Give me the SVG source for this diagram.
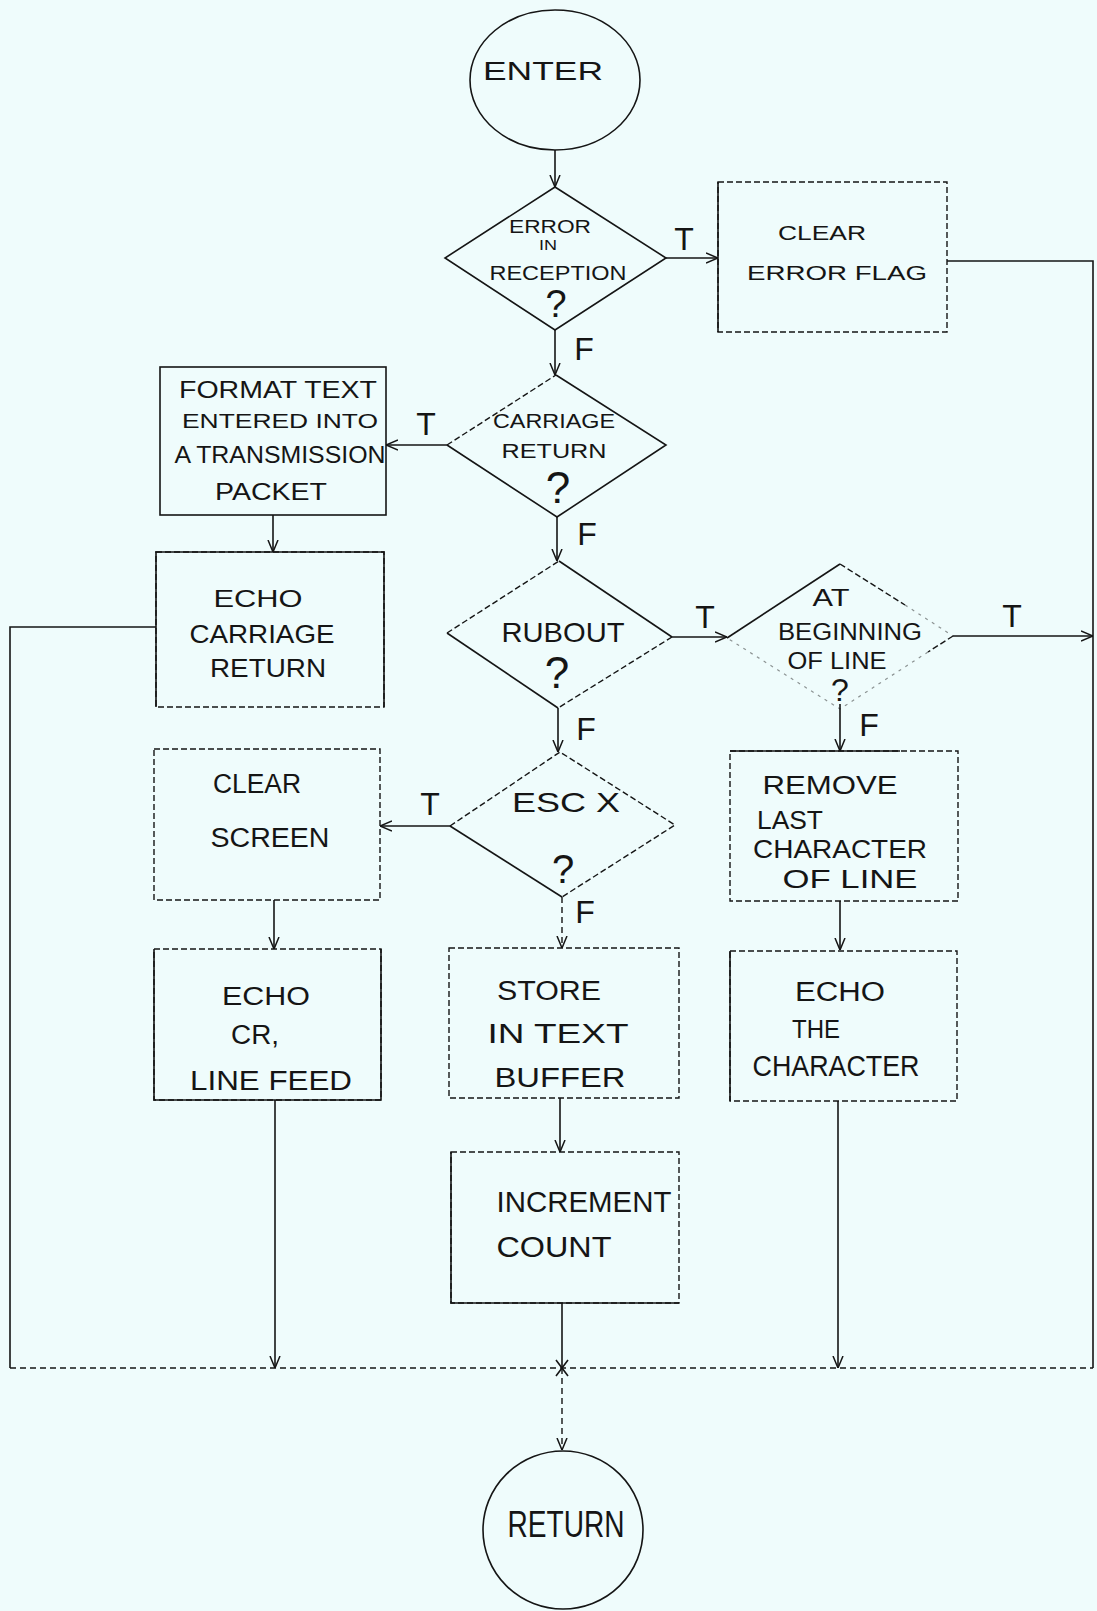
<svg xmlns="http://www.w3.org/2000/svg" width="1097" height="1611" viewBox="0 0 1097 1611">
<defs>
<style>
.bg{fill:#effcfc}
.s{fill:none;stroke:#151515;stroke-width:1.6}
.d{fill:none;stroke:#151515;stroke-width:1.4;stroke-dasharray:6 3}
.f{fill:none;stroke:#151515;stroke-width:1.2;stroke-dasharray:3 5;opacity:.45}
.c{fill:none;stroke:#151515;stroke-width:1.6}
.cd{fill:none;stroke:#151515;stroke-width:1.4;stroke-dasharray:6 4}
text{font-family:"Liberation Sans",Arial,sans-serif;fill:#151515;text-anchor:middle}
.lb{font-size:32px}
</style>
<marker id="ah" viewBox="0 0 12 12" refX="12" refY="6" markerWidth="12" markerHeight="12" markerUnits="userSpaceOnUse" orient="auto">
<path d="M0,1 L12,6 L0,11" fill="none" stroke="#151515" stroke-width="1.5"/>
</marker>
</defs>
<rect class="bg" x="0" y="0" width="1097" height="1611"/>

<g id="connectors">
<path class="c" d="M555,150 V187" marker-end="url(#ah)"/>
<path class="c" d="M666,258 H718" marker-end="url(#ah)"/>
<path class="c" d="M947,261 H1093 V1368"/>
<path class="c" d="M555,330 V375" marker-end="url(#ah)"/>
<path class="c" d="M447,445 H386" marker-end="url(#ah)"/>
<path class="c" d="M273,515 V552" marker-end="url(#ah)"/>
<path class="c" d="M156,627 H10 V1368"/>
<path class="cd" d="M10,1368 H1093"/>
<path class="c" d="M557,517 V561" marker-end="url(#ah)"/>
<path class="c" d="M672,637 H727" marker-end="url(#ah)"/>
<path class="c" d="M953,636 H1093" marker-end="url(#ah)"/>
<path class="c" d="M840,704 V751" marker-end="url(#ah)"/>
<path class="c" d="M840,901 V950" marker-end="url(#ah)"/>
<path class="c" d="M838,1101 V1368" marker-end="url(#ah)"/>
<path class="c" d="M558,708 V752" marker-end="url(#ah)"/>
<path class="c" d="M450,826 H380" marker-end="url(#ah)"/>
<path class="c" d="M274,900 V949" marker-end="url(#ah)"/>
<path class="c" d="M275,1100 V1368" marker-end="url(#ah)"/>
<path class="cd" d="M562,897 V948" marker-end="url(#ah)"/>
<path class="c" d="M560,1098 V1152" marker-end="url(#ah)"/>
<path class="c" d="M562,1303 V1368"/>
<path class="cd" d="M562,1368 V1450" marker-end="url(#ah)"/>
<path class="c" d="M556,1360 L568,1376 M568,1360 L556,1376"/>
<text class="lb" x="684" y="250">T</text>
<text class="lb" x="584" y="360">F</text>
<text class="lb" x="426" y="435">T</text>
<text class="lb" x="587" y="545">F</text>
<text class="lb" x="705" y="628">T</text>
<text class="lb" x="1012" y="627">T</text>
<text class="lb" x="586" y="740">F</text>
<text class="lb" x="869" y="736">F</text>
<text class="lb" x="430" y="815">T</text>
<text class="lb" x="585" y="923">F</text>
</g>

<g id="enter">
<ellipse class="s" cx="555" cy="80" rx="85" ry="70"/>
<text x="543" y="80" font-size="25" textLength="120" lengthAdjust="spacingAndGlyphs">ENTER</text>
</g>

<g id="d1">
<polygon class="s" points="555,187 666,258 555,330 445,258"/>
<text x="550" y="233" font-size="18" textLength="82" lengthAdjust="spacingAndGlyphs">ERROR</text>
<text x="548" y="250" font-size="14" textLength="18" lengthAdjust="spacingAndGlyphs">IN</text>
<text x="558" y="280" font-size="21" textLength="137" lengthAdjust="spacingAndGlyphs">RECEPTION</text>
<text x="556" y="317" font-size="38">?</text>
</g>

<g id="clear-error-flag">
<rect class="d" x="718" y="182" width="229" height="150"/>
<path class="s" d="M718,182 V332"/>
<text x="822" y="240" font-size="21" textLength="88" lengthAdjust="spacingAndGlyphs">CLEAR</text>
<text x="837" y="280" font-size="21" textLength="180" lengthAdjust="spacingAndGlyphs">ERROR  FLAG</text>
</g>

<g id="d2">
<path class="d" d="M447,445 L556,375"/>
<path class="s" d="M556,375 L666,445 L557,517 L447,445"/>
<text x="554" y="428" font-size="21" textLength="122" lengthAdjust="spacingAndGlyphs">CARRIAGE</text>
<text x="554" y="458" font-size="21" textLength="105" lengthAdjust="spacingAndGlyphs">RETURN</text>
<text x="558" y="503" font-size="44">?</text>
</g>

<g id="format-text">
<rect class="s" x="160" y="367" width="226" height="148"/>
<text x="278" y="398" font-size="23" textLength="198" lengthAdjust="spacingAndGlyphs">FORMAT TEXT</text>
<text x="280" y="428" font-size="21" textLength="196" lengthAdjust="spacingAndGlyphs">ENTERED INTO</text>
<text x="280" y="463" font-size="23" textLength="211" lengthAdjust="spacingAndGlyphs">A TRANSMISSION</text>
<text x="271" y="500" font-size="24" textLength="112" lengthAdjust="spacingAndGlyphs">PACKET</text>
</g>

<g id="echo-carriage-return">
<rect class="d" x="156" y="552" width="228" height="155"/>
<path class="s" d="M156,707 V552 H384 V707"/>
<text x="258" y="607" font-size="24" textLength="89" lengthAdjust="spacingAndGlyphs">ECHO</text>
<text x="262" y="643" font-size="25" textLength="145" lengthAdjust="spacingAndGlyphs">CARRIAGE</text>
<text x="268" y="677" font-size="26" textLength="116" lengthAdjust="spacingAndGlyphs">RETURN</text>
</g>

<g id="d3">
<path class="d" d="M447,633 L559,561"/>
<path class="s" d="M559,561 L672,637"/>
<path class="d" d="M672,637 L558,708"/>
<path class="s" d="M558,708 L447,633"/>
<text x="563" y="642" font-size="28" textLength="123" lengthAdjust="spacingAndGlyphs">RUBOUT</text>
<text x="557" y="688" font-size="44">?</text>
</g>

<g id="d4">
<path class="s" d="M727,638 L840,564"/>
<path class="d" d="M840,564 L905,605"/>
<path class="f" d="M905,605 L953,636"/>
<path class="d" d="M953,636 L928,652"/>
<path class="f" d="M928,652 L840,709 L727,638"/>
<text x="831" y="606" font-size="24" textLength="37" lengthAdjust="spacingAndGlyphs">AT</text>
<text x="850" y="640" font-size="23" textLength="144" lengthAdjust="spacingAndGlyphs">BEGINNING</text>
<text x="837" y="669" font-size="23" textLength="99" lengthAdjust="spacingAndGlyphs">OF LINE</text>
<text x="840" y="701" font-size="32">?</text>
</g>

<g id="remove-last-character">
<rect class="d" x="730" y="751" width="228" height="150"/>
<path class="s" d="M730,751 H900"/>
<text x="830" y="794" font-size="26" textLength="135" lengthAdjust="spacingAndGlyphs">REMOVE</text>
<text x="790" y="829" font-size="25" textLength="66" lengthAdjust="spacingAndGlyphs">LAST</text>
<text x="840" y="858" font-size="26" textLength="174" lengthAdjust="spacingAndGlyphs">CHARACTER</text>
<text x="850" y="888" font-size="25" textLength="135" lengthAdjust="spacingAndGlyphs">OF  LINE</text>
</g>

<g id="echo-the-character">
<rect class="d" x="730" y="951" width="227" height="150"/>
<path class="s" d="M730,951 V1101"/>
<text x="840" y="1001" font-size="27" textLength="90" lengthAdjust="spacingAndGlyphs">ECHO</text>
<text x="816" y="1038" font-size="26" textLength="48" lengthAdjust="spacingAndGlyphs">THE</text>
<text x="836" y="1076" font-size="29" textLength="167" lengthAdjust="spacingAndGlyphs">CHARACTER</text>
</g>

<g id="d5">
<path class="d" d="M450,826 L560,752 L675,825 L562,897"/>
<path class="s" d="M562,897 L450,826"/>
<text x="566" y="812" font-size="28" textLength="108" lengthAdjust="spacingAndGlyphs">ESC  X</text>
<text x="563" y="883" font-size="40">?</text>
</g>

<g id="clear-screen">
<rect class="d" x="154" y="749" width="226" height="151"/>
<text x="257" y="793" font-size="27" textLength="88" lengthAdjust="spacingAndGlyphs">CLEAR</text>
<text x="270" y="847" font-size="27" textLength="119" lengthAdjust="spacingAndGlyphs">SCREEN</text>
</g>

<g id="echo-cr-lf">
<rect class="d" x="154" y="949" width="227" height="151"/>
<path class="s" d="M154,949 V1100 H381 V949"/>
<text x="266" y="1005" font-size="25" textLength="88" lengthAdjust="spacingAndGlyphs">ECHO</text>
<text x="255" y="1044" font-size="27" textLength="48" lengthAdjust="spacingAndGlyphs">CR,</text>
<text x="271" y="1090" font-size="27" textLength="162" lengthAdjust="spacingAndGlyphs">LINE FEED</text>
</g>

<g id="store-in-text-buffer">
<rect class="d" x="449" y="948" width="230" height="150"/>
<text x="549" y="1000" font-size="27" textLength="104" lengthAdjust="spacingAndGlyphs">STORE</text>
<text x="558" y="1043" font-size="27" textLength="141" lengthAdjust="spacingAndGlyphs">IN  TEXT</text>
<text x="560" y="1087" font-size="27" textLength="131" lengthAdjust="spacingAndGlyphs">BUFFER</text>
</g>

<g id="increment-count">
<rect class="d" x="451" y="1152" width="228" height="151"/>
<path class="s" d="M451,1152 V1303 H679"/>
<text x="584" y="1212" font-size="29" textLength="175" lengthAdjust="spacingAndGlyphs">INCREMENT</text>
<text x="554" y="1257" font-size="29" textLength="115" lengthAdjust="spacingAndGlyphs">COUNT</text>
</g>

<g id="return">
<ellipse class="s" cx="563" cy="1530" rx="80" ry="79"/>
<text x="566" y="1537" font-size="36" textLength="117" lengthAdjust="spacingAndGlyphs">RETURN</text>
</g>
</svg>
